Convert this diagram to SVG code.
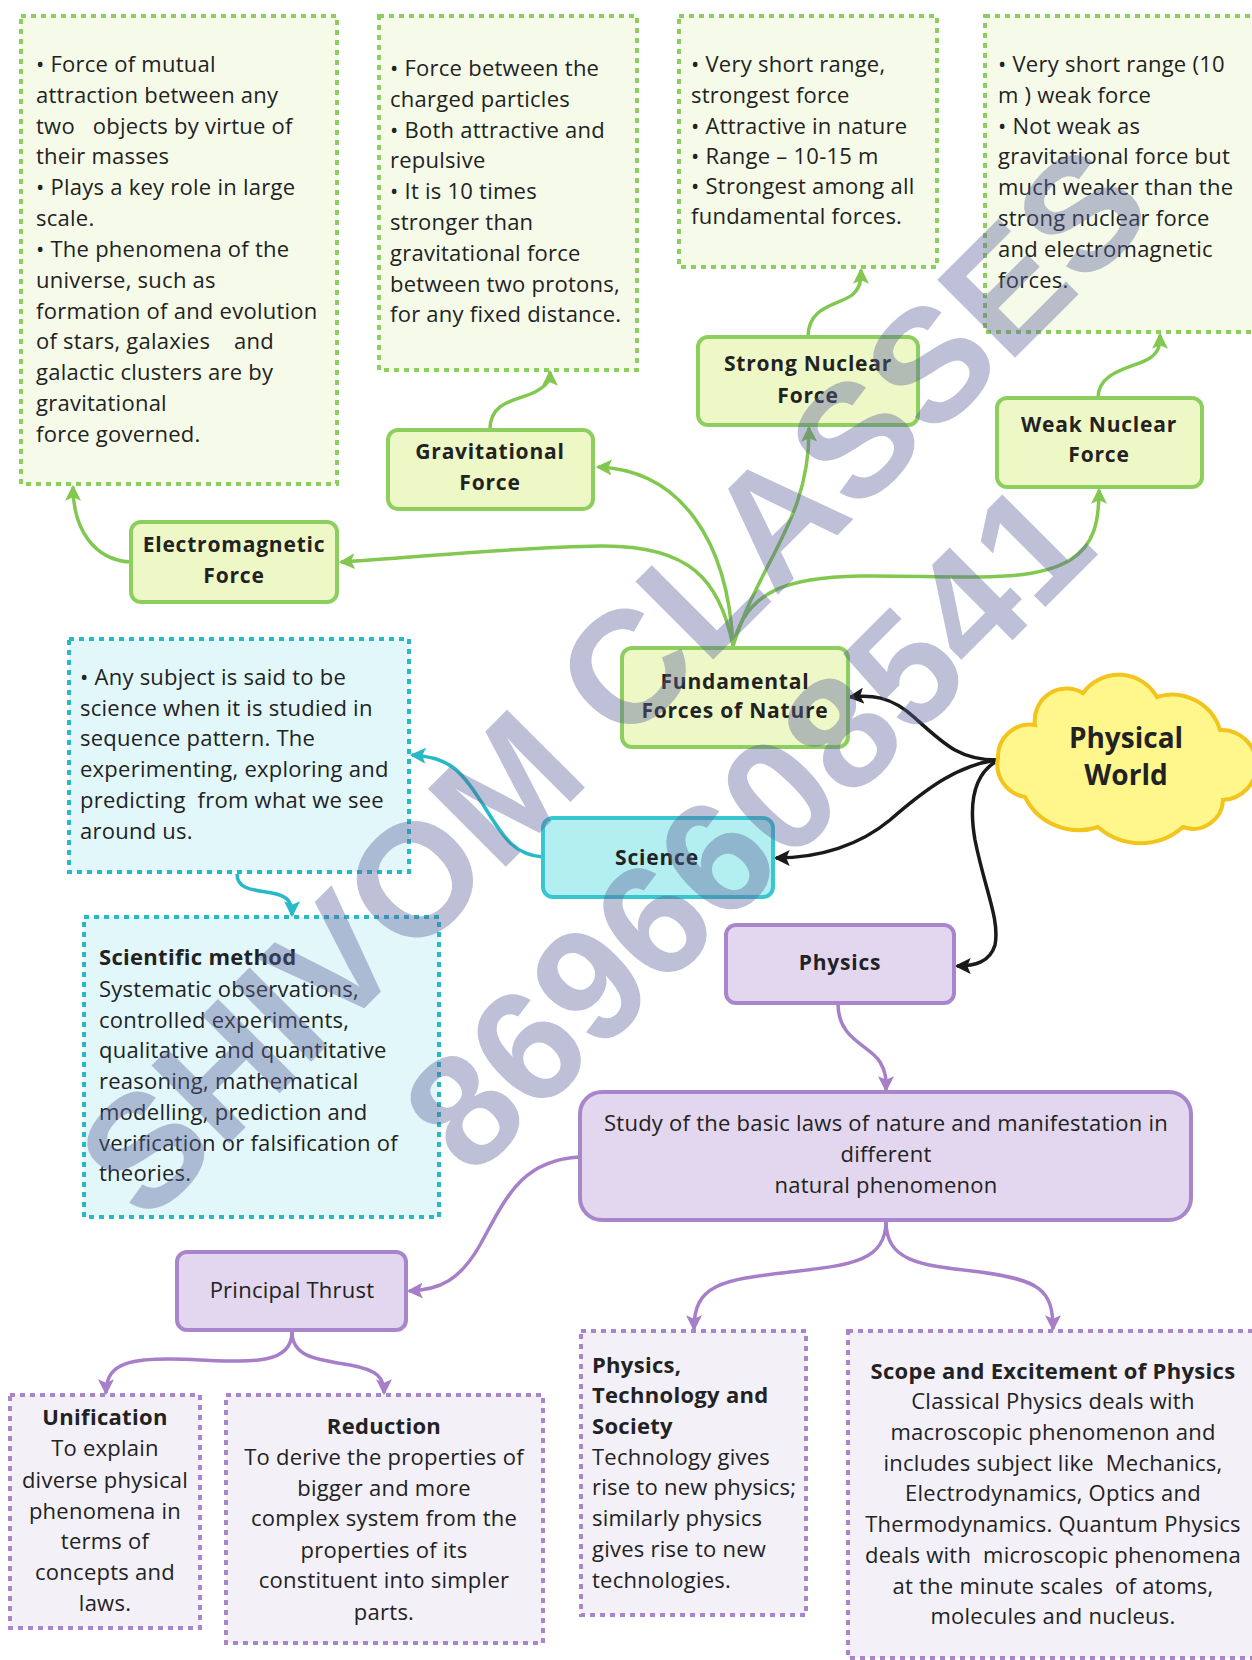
<svg xmlns="http://www.w3.org/2000/svg" width="1252" height="1660" viewBox="0 0 1252 1660">
<defs>
<style>
text{font-family:"Open Sans","Noto Sans","DejaVu Sans",sans-serif;fill:#222;white-space:pre}
.t{font-size:22px;letter-spacing:0.25px}
.b{font-size:22px;font-weight:700;letter-spacing:0.3px}
.nb{font-size:21px;font-weight:700;letter-spacing:0.8px;text-anchor:middle}
.c{text-anchor:middle}
.gd{fill:#F6FBE9;stroke:#8DCF5E;stroke-width:4;stroke-dasharray:5 5}
.gn{fill:#EEF8C6;stroke:#8DCF5E;stroke-width:4}
.cd{fill:#E2F7FA;stroke:#27B9C6;stroke-width:4;stroke-dasharray:5 5}
.cn{fill:#B3EEF1;stroke:#38C7D1;stroke-width:4}
.pd{fill:#F4F0F8;stroke:#A985CB;stroke-width:4;stroke-dasharray:5 5}
.pn{fill:#E3D6EF;stroke:#A985CB;stroke-width:4}
.eg{fill:none;stroke:#82C850;stroke-width:3.5;marker-end:url(#ag)}
.ek{fill:none;stroke:#1A1A1A;stroke-width:3.5;marker-end:url(#ak)}
.ec{fill:none;stroke:#27B9C6;stroke-width:3.5;marker-end:url(#ac)}
.ep{fill:none;stroke:#A77FC9;stroke-width:3.5;marker-end:url(#ap)}
.wm{font-family:"Liberation Sans",Arial,sans-serif;font-weight:700;font-size:160px;fill:#5A6199;fill-opacity:0.4;text-anchor:middle}
</style>
<marker id="ag" viewBox="0 0 14 14" refX="12" refY="7" markerWidth="16" markerHeight="16" markerUnits="userSpaceOnUse" orient="auto"><path d="M0,0 L14,7 L0,14 L3,7 z" fill="#82C850"/></marker>
<marker id="ak" viewBox="0 0 14 14" refX="12" refY="7" markerWidth="16" markerHeight="16" markerUnits="userSpaceOnUse" orient="auto"><path d="M0,0 L14,7 L0,14 L3,7 z" fill="#1A1A1A"/></marker>
<marker id="ac" viewBox="0 0 14 14" refX="12" refY="7" markerWidth="16" markerHeight="16" markerUnits="userSpaceOnUse" orient="auto"><path d="M0,0 L14,7 L0,14 L3,7 z" fill="#27B9C6"/></marker>
<marker id="ap" viewBox="0 0 14 14" refX="12" refY="7" markerWidth="16" markerHeight="16" markerUnits="userSpaceOnUse" orient="auto"><path d="M0,0 L14,7 L0,14 L3,7 z" fill="#A77FC9"/></marker>
</defs>
<rect width="1252" height="1660" fill="#FFFFFF"/>

<g id="connectors">
<path class="eg" d="M733,646 C728,540 680,470 598,467"/>
<path class="eg" d="M733,646 C720,580 690,545 600,546 C520,547 420,557 341,562"/>
<path class="eg" d="M733,646 C760,560 810,520 809,428"/>
<path class="eg" d="M733,646 C745,590 790,577 860,576 C950,575 1030,585 1070,560 C1095,545 1099,520 1099,490"/>
<path class="eg" d="M490,429 C490,400 520,400 535,392 C548,385 550,380 550,372"/>
<path class="eg" d="M808,337 C808,305 840,305 852,295 C860,288 861,282 861,270"/>
<path class="eg" d="M1098,398 C1098,370 1135,368 1150,358 C1159,352 1160,345 1160,335"/>
<path class="eg" d="M130,562 C95,560 73,530 73,487"/>
<path class="ek" d="M997,760 C960,760 945,745 915,718 C890,695 870,695 850,697"/>
<path class="ek" d="M997,760 C960,765 930,785 890,820 C860,845 820,858 776,858"/>
<path class="ek" d="M995,762 C975,775 968,800 975,840 C985,890 1000,920 995,945 C990,962 975,966 957,966"/>
<path class="ec" d="M543,857 C510,855 500,830 480,800 C462,772 450,757 412,755"/>
<path class="ec" d="M237,874 C237,890 255,890 272,893 C288,896 292,902 292,915"/>
<path class="ep" d="M838,1004 C838,1040 870,1045 880,1062 C886,1072 886,1078 886,1090"/>
<path class="ep" d="M580,1157 C520,1160 505,1200 480,1245 C460,1280 440,1290 409,1291"/>
<path class="ep" d="M886,1221 C886,1262 850,1265 790,1272 C720,1280 694,1285 694,1329"/>
<path class="ep" d="M886,1221 C886,1262 920,1265 980,1272 C1040,1280 1053,1290 1053,1329"/>
<path class="ep" d="M292,1332 C292,1365 250,1362 200,1360 C130,1356 106,1362 106,1393"/>
<path class="ep" d="M292,1332 C292,1358 320,1360 350,1365 C378,1370 384,1378 384,1393"/>
</g>

<g id="grav-desc">
<rect class="gd" x="21" y="16" width="316" height="468"/>
<text class="t" x="36" y="72">• Force of mutual</text>
<text class="t" x="36" y="103">attraction between any</text>
<text class="t" x="36" y="134">two   objects by virtue of</text>
<text class="t" x="36" y="164">their masses</text>
<text class="t" x="36" y="195">• Plays a key role in large</text>
<text class="t" x="36" y="226">scale.</text>
<text class="t" x="36" y="257">• The phenomena of the</text>
<text class="t" x="36" y="288">universe, such as</text>
<text class="t" x="36" y="319">formation of and evolution</text>
<text class="t" x="36" y="349">of stars, galaxies    and</text>
<text class="t" x="36" y="380">galactic clusters are by</text>
<text class="t" x="36" y="411">gravitational</text>
<text class="t" x="36" y="442">force governed.</text>
</g>

<g id="em-desc">
<rect class="gd" x="379" y="16" width="258" height="354"/>
<text class="t" x="390" y="76">• Force between the</text>
<text class="t" x="390" y="107">charged particles</text>
<text class="t" x="390" y="138">• Both attractive and</text>
<text class="t" x="390" y="168">repulsive</text>
<text class="t" x="390" y="199">• It is 10 times</text>
<text class="t" x="390" y="230">stronger than</text>
<text class="t" x="390" y="261">gravitational force</text>
<text class="t" x="390" y="292">between two protons,</text>
<text class="t" x="390" y="322">for any fixed distance.</text>
</g>

<g id="strong-desc">
<rect class="gd" x="679" y="16" width="258" height="251"/>
<text class="t" x="691" y="72">• Very short range,</text>
<text class="t" x="691" y="103">strongest force</text>
<text class="t" x="691" y="134">• Attractive in nature</text>
<text class="t" x="691" y="164">• Range – 10-15 m</text>
<text class="t" x="691" y="194">• Strongest among all</text>
<text class="t" x="691" y="224">fundamental forces.</text>
</g>

<g id="weak-desc">
<rect class="gd" x="985" y="16" width="290" height="316"/>
<text class="t" x="998" y="72">• Very short range (10</text>
<text class="t" x="998" y="103">m ) weak force</text>
<text class="t" x="998" y="134">• Not weak as</text>
<text class="t" x="998" y="164">gravitational force but</text>
<text class="t" x="998" y="195">much weaker than the</text>
<text class="t" x="998" y="226">strong nuclear force</text>
<text class="t" x="998" y="257">and electromagnetic</text>
<text class="t" x="998" y="288">forces.</text>
</g>

<g id="gravitational">
<rect class="gn" x="388" y="430" width="205" height="79" rx="10"/>
<text class="nb" x="490" y="459">Gravitational</text>
<text class="nb" x="490" y="490">Force</text>
</g>

<g id="strong">
<rect class="gn" x="698" y="337" width="220" height="88" rx="10"/>
<text class="nb" x="808" y="371">Strong Nuclear</text>
<text class="nb" x="808" y="403">Force</text>
</g>

<g id="weak">
<rect class="gn" x="997" y="398" width="205" height="89" rx="10"/>
<text class="nb" x="1099" y="432">Weak Nuclear</text>
<text class="nb" x="1099" y="462">Force</text>
</g>

<g id="electromagnetic">
<rect class="gn" x="131" y="522" width="206" height="80" rx="10"/>
<text class="nb" x="234" y="552">Electromagnetic</text>
<text class="nb" x="234" y="583">Force</text>
</g>

<g id="fundamental">
<rect class="gn" x="622" y="648" width="226" height="99" rx="10"/>
<text class="nb" x="735" y="689">Fundamental</text>
<text class="nb" x="735" y="718">Forces of Nature</text>
</g>

<g id="physical-world">
<path d="M998,758 A32,32 0 0 1 1035,725 A32,32 0 0 1 1083,693 A44,44 0 0 1 1157,697 A50,50 0 0 1 1220,730 A35,35 0 0 1 1223,800 A30,30 0 0 1 1183,827 A64,64 0 0 1 1098,827 A60,60 0 0 1 1025,797 A33,33 0 0 1 998,758 Z" fill="#FFF68C" stroke="#F2C41C" stroke-width="4"/>
<text x="1126" y="748" text-anchor="middle" font-size="28" font-weight="700">Physical</text>
<text x="1126" y="785" text-anchor="middle" font-size="28" font-weight="700">World</text>
</g>

<g id="science-desc">
<rect class="cd" x="69" y="639" width="340" height="233"/>
<text class="t" x="80" y="685">• Any subject is said to be</text>
<text class="t" x="80" y="716">science when it is studied in</text>
<text class="t" x="80" y="746">sequence pattern. The</text>
<text class="t" x="80" y="777">experimenting, exploring and</text>
<text class="t" x="80" y="808">predicting  from what we see</text>
<text class="t" x="80" y="839">around us.</text>
</g>

<g id="science">
<rect class="cn" x="543" y="818" width="230" height="79" rx="10"/>
<text class="nb" x="657" y="865">Science</text>
</g>

<g id="scientific-method">
<rect class="cd" x="84" y="917" width="355" height="300"/>
<text class="b" x="99" y="965">Scientific method</text>
<text class="t" x="99" y="997">Systematic observations,</text>
<text class="t" x="99" y="1028">controlled experiments,</text>
<text class="t" x="99" y="1058">qualitative and quantitative</text>
<text class="t" x="99" y="1089">reasoning, mathematical</text>
<text class="t" x="99" y="1120">modelling, prediction and</text>
<text class="t" x="99" y="1151">verification or falsification of</text>
<text class="t" x="99" y="1181">theories.</text>
</g>

<g id="physics">
<rect class="pn" x="726" y="925" width="228" height="78" rx="10"/>
<text class="nb" x="840" y="970">Physics</text>
</g>

<g id="study">
<rect class="pn" x="580" y="1092" width="611" height="128" rx="22"/>
<text class="t c" x="886" y="1131">Study of the basic laws of nature and manifestation in</text>
<text class="t c" x="886" y="1162">different</text>
<text class="t c" x="886" y="1193">natural phenomenon</text>
</g>

<g id="principal-thrust">
<rect class="pn" x="177" y="1252" width="229" height="78" rx="10"/>
<text class="t c" x="292" y="1298">Principal Thrust</text>
</g>

<g id="unification">
<rect class="pd" x="10" y="1395" width="190" height="233"/>
<text class="b c" x="105" y="1425">Unification</text>
<text class="t c" x="105" y="1456">To explain</text>
<text class="t c" x="105" y="1488">diverse physical</text>
<text class="t c" x="105" y="1519">phenomena in</text>
<text class="t c" x="105" y="1549">terms of</text>
<text class="t c" x="105" y="1580">concepts and</text>
<text class="t c" x="105" y="1611">laws.</text>
</g>

<g id="reduction">
<rect class="pd" x="226" y="1395" width="317" height="248"/>
<text class="b c" x="384" y="1434">Reduction</text>
<text class="t c" x="384" y="1465">To derive the properties of</text>
<text class="t c" x="384" y="1496">bigger and more</text>
<text class="t c" x="384" y="1526">complex system from the</text>
<text class="t c" x="384" y="1558">properties of its</text>
<text class="t c" x="384" y="1588">constituent into simpler</text>
<text class="t c" x="384" y="1620">parts.</text>
</g>

<g id="technology">
<rect class="pd" x="581" y="1331" width="225" height="284"/>
<text class="b" x="592" y="1373">Physics,</text>
<text class="b" x="592" y="1403">Technology and</text>
<text class="b" x="592" y="1434">Society</text>
<text class="t" x="592" y="1465">Technology gives</text>
<text class="t" x="592" y="1495">rise to new physics;</text>
<text class="t" x="592" y="1526">similarly physics</text>
<text class="t" x="592" y="1557">gives rise to new</text>
<text class="t" x="592" y="1588">technologies.</text>
</g>

<g id="scope">
<rect class="pd" x="848" y="1331" width="420" height="327"/>
<text class="b c" x="1053" y="1379">Scope and Excitement of Physics</text>
<text class="t c" x="1053" y="1409">Classical Physics deals with</text>
<text class="t c" x="1053" y="1440">macroscopic phenomenon and</text>
<text class="t c" x="1053" y="1471">includes subject like  Mechanics,</text>
<text class="t c" x="1053" y="1501">Electrodynamics, Optics and</text>
<text class="t c" x="1053" y="1532">Thermodynamics. Quantum Physics</text>
<text class="t c" x="1053" y="1563">deals with  microscopic phenomena</text>
<text class="t c" x="1053" y="1594">at the minute scales  of atoms,</text>
<text class="t c" x="1053" y="1624">molecules and nucleus.</text>
</g>

<g id="watermark" transform="translate(612,680) rotate(-45)">
<text class="wm" x="0" y="57">SHIVOM CLASSES</text>
<text class="wm" x="-8" y="255">8696608541</text>
</g>
</svg>
